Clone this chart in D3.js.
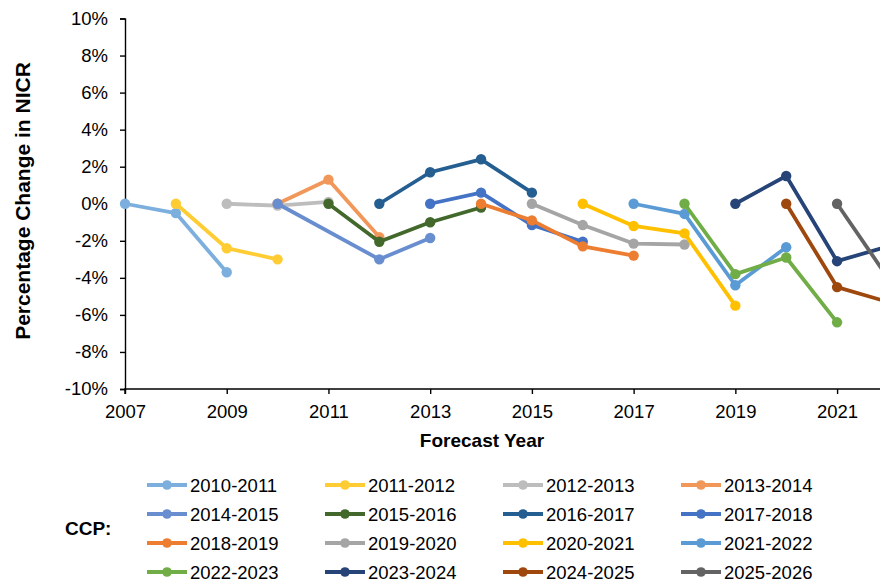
<!DOCTYPE html>
<html><head><meta charset="utf-8">
<script src="https://cdn.jsdelivr.net/npm/d3@7"></script>
<style>body{margin:0;background:#fff}svg{display:block;font-family:"Liberation Sans",Arial,sans-serif}</style>
</head><body><div id="chart"></div>
<script>
const seriesNames = ["2010-2011","2011-2012","2012-2013","2013-2014","2014-2015","2015-2016","2016-2017","2017-2018","2018-2019","2019-2020","2020-2021","2021-2022","2022-2023","2023-2024","2024-2025","2025-2026"];
const seriesColors = ["#7CAFDD","#FFCD33","#BDBDBD","#F1975A","#698ED0","#43682B","#255E91","#4472C4","#ED7D31","#A5A5A5","#FFC000","#5B9BD5","#70AD47","#264478","#9E480E","#636363"];
const seriesYears = [
  [2007,2008,2009],
  [2008,2009,2010],
  [2009,2010,2011],
  [2010,2011,2012],
  [2010,2012,2013],
  [2011,2012,2013,2014],
  [2012,2013,2014,2015],
  [2013,2014,2015,2016],
  [2014,2015,2016,2017],
  [2015,2016,2017,2018],
  [2016,2017,2018,2019],
  [2017,2018,2019,2020],
  [2018,2019,2020,2021],
  [2019,2020,2021,2022],
  [2020,2021,2022],
  [2021,2022]
];
const seriesValues = [
  [0,-0.5,-3.7],
  [0,-2.4,-3.0],
  [0,-0.1,0.1],
  [0,1.3,-1.8],
  [0,-3.0,-1.85],
  [0,-2.05,-1.0,-0.2],
  [0,1.7,2.4,0.6],
  [0,0.6,-1.15,-2.05],
  [0,-0.9,-2.3,-2.8],
  [0,-1.15,-2.15,-2.2],
  [0,-1.2,-1.6,-5.5],
  [0,-0.55,-4.4,-2.35],
  [0,-3.8,-2.9,-6.4],
  [0,1.5,-3.1,-2.3],
  [0,-4.5,-5.3],
  [0,-4.0]
];
const xTicks = [2007,2009,2011,2013,2015,2017,2019,2021];
const yTicks = [-10,-8,-6,-4,-2,0,2,4,6,8,10];

const W = 880, H = 582;
const svg = d3.select("#chart").append("svg").attr("width",W).attr("height",H);
const x = d3.scaleLinear().domain([2007,2023]).range([125,938.8]);
const y = d3.scaleLinear().domain([-10,10]).range([389,18.5]);

svg.append("clipPath").attr("id","pc").append("rect").attr("x",0).attr("y",0).attr("width",W).attr("height",H);

// axes
const yAxis = svg.append("g").attr("transform","translate(125,0)")
  .call(d3.axisLeft(y).tickValues(yTicks).tickSize(5).tickPadding(12).tickFormat(d=>d+"%"));
const xAxis = svg.append("g").attr("transform","translate(0,389)")
  .call(d3.axisBottom(x).tickValues(xTicks).tickSize(5).tickPadding(11).tickFormat(d3.format("d")));
xAxis.select(".domain").attr("d","M125,5V0H880");
[yAxis,xAxis].forEach(a=>{
  a.select(".domain").attr("stroke","#000").attr("stroke-width",1.4);
  a.selectAll(".tick line").attr("stroke","#000").attr("stroke-width",1.4);
  a.selectAll(".tick text").attr("fill","#000").style("font-size","18.5px").style("font-family","'Liberation Sans',Arial,sans-serif");
});

const plot = svg.append("g");
const line = d3.line().x(d=>x(d[0])).y(d=>y(d[1]));
seriesNames.forEach((name,i)=>{
  const pts = seriesYears[i].map((yr,j)=>[yr,seriesValues[i][j]]);
  const g = plot.append("g").attr("clip-path","url(#pc)");
  g.append("path").datum(pts).attr("d",line).attr("fill","none")
    .attr("stroke",seriesColors[i]).attr("stroke-width",3.8).attr("stroke-linejoin","round");
  g.selectAll("circle").data(pts).enter().append("circle")
    .attr("cx",d=>x(d[0])).attr("cy",d=>y(d[1])).attr("r",5.2).attr("fill",seriesColors[i]);
});

// axis titles
svg.append("text").attr("transform","translate(30,201) rotate(-90)").attr("text-anchor","middle")
  .style("font-size","21px").style("font-weight","bold").text("Percentage Change in NICR");
svg.append("text").attr("x",482).attr("y",447).attr("text-anchor","middle")
  .style("font-size","19px").style("font-weight","bold").text("Forecast Year");

// legend
svg.append("text").attr("x",65).attr("y",535).style("font-size","19px").style("font-weight","bold").text("CCP:");
const colX = [147,325,503,681];
const rowY = [485,514,543,572];
seriesNames.forEach((name,i)=>{
  const cx = colX[i%4], cy = rowY[Math.floor(i/4)];
  const lg = svg.append("g");
  lg.append("line").attr("x1",cx).attr("x2",cx+40).attr("y1",cy).attr("y2",cy)
    .attr("stroke",seriesColors[i]).attr("stroke-width",4);
  lg.append("circle").attr("cx",cx+20).attr("cy",cy).attr("r",4.8).attr("fill",seriesColors[i]);
  lg.append("text").attr("x",cx+43).attr("y",cy+7).style("font-size","18.5px").text(name);
});
</script></body></html>
